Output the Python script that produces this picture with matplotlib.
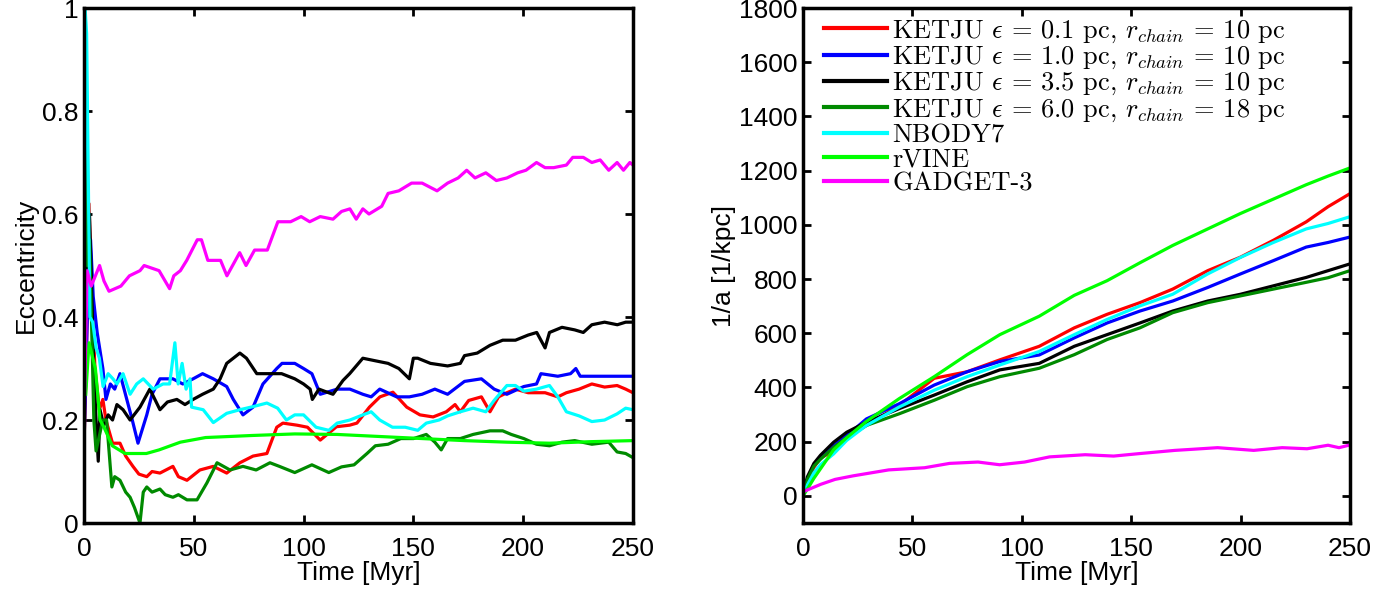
import matplotlib
matplotlib.use('Agg')
import matplotlib.pyplot as plt

plt.rcParams['font.family'] = ['Liberation Sans', 'DejaVu Sans']
plt.rcParams['mathtext.fontset'] = 'cm'

# ---------------- left panel: eccentricity ----------------
t_red = [0, 1, 2.3, 3.5, 5, 7, 8.6, 10, 13, 16.4, 19, 22.3, 25, 28.6, 31, 34.6, 40.5, 43, 46.9, 52.8,
         58.9, 65, 71, 77, 83.3, 87.8, 90.6, 97, 101.8, 107.6, 115, 121, 124.3, 130, 134.8, 140.7,
         147, 153, 159, 165, 169, 171.4, 175.2, 181, 184.9, 188.8, 192.6, 196.5, 202.3, 210, 215.8,
         219.7, 225.5, 231.3, 237.1, 242.8, 246.7, 250]
e_red = [0.15, 0.3, 0.62, 0.45, 0.3, 0.22, 0.24, 0.2, 0.155, 0.155, 0.13, 0.11, 0.095, 0.09, 0.1, 0.097,
         0.11, 0.09, 0.083, 0.103, 0.11, 0.097, 0.117, 0.13, 0.135, 0.186, 0.194, 0.19, 0.186, 0.161,
         0.187, 0.19, 0.194, 0.225, 0.245, 0.254, 0.225, 0.21, 0.206, 0.216, 0.23, 0.216, 0.238, 0.245,
         0.216, 0.245, 0.253, 0.26, 0.253, 0.253, 0.245, 0.253, 0.26, 0.27, 0.264, 0.267, 0.26, 0.253]

t_blue = [0, 1.5, 3, 4.2, 6, 8.6, 10, 12, 14, 16.4, 19.5, 22, 24.6, 28.6, 31, 34.6, 40.5, 45, 49.7, 54,
          58.9, 65, 68, 72.4, 77, 81.5, 87.8, 90.2, 96, 100, 103.8, 107.6, 115.3, 121.1, 127, 130.8,
          134.7, 142.4, 148.2, 154, 159.8, 165.6, 173.3, 181, 186.8, 192.6, 200.3, 206.1, 208.1, 215.8,
          221.6, 224, 226, 231.3, 241, 250]
e_blue = [0.15, 0.4, 0.55, 0.44, 0.37, 0.3, 0.24, 0.27, 0.26, 0.29, 0.24, 0.2, 0.155, 0.21, 0.25, 0.28,
          0.28, 0.27, 0.28, 0.29, 0.28, 0.265, 0.24, 0.21, 0.225, 0.27, 0.3, 0.31, 0.31, 0.3, 0.29, 0.25,
          0.26, 0.26, 0.25, 0.245, 0.26, 0.245, 0.245, 0.25, 0.26, 0.25, 0.275, 0.28, 0.26, 0.25, 0.265,
          0.27, 0.29, 0.285, 0.29, 0.3, 0.285, 0.285, 0.285, 0.285]

t_black = [0, 1, 2.5, 3.5, 4.5, 5.5, 6.5, 7.3, 9, 11, 13, 15, 17.8, 21, 25.5, 30, 34.6, 38, 42.3, 46,
           49.7, 54, 58.9, 62, 65, 68, 71, 74, 78.7, 84.4, 90, 96, 100, 103, 104, 107, 109.5, 113.4,
           118, 121, 127, 132.7, 138.5, 143.4, 148.2, 150, 152, 157.8, 165.6, 171.4, 173.3, 179.1,
           184.9, 190.7, 196.5, 202.3, 206.2, 210, 212, 217.7, 223.5, 227.4, 231.3, 237.1, 242.9,
           246.7, 250]
e_black = [0.2, 0.45, 0.6, 0.45, 0.3, 0.2, 0.12, 0.22, 0.19, 0.21, 0.2, 0.23, 0.22, 0.2, 0.225, 0.26,
           0.22, 0.235, 0.24, 0.23, 0.24, 0.25, 0.26, 0.28, 0.31, 0.32, 0.33, 0.32, 0.29, 0.29, 0.29,
           0.28, 0.27, 0.26, 0.24, 0.26, 0.256, 0.25, 0.277, 0.29, 0.32, 0.315, 0.31, 0.3, 0.28, 0.32,
           0.32, 0.31, 0.305, 0.31, 0.325, 0.33, 0.345, 0.355, 0.355, 0.365, 0.37, 0.34, 0.37, 0.38,
           0.375, 0.37, 0.385, 0.39, 0.385, 0.39, 0.39]

t_dkgreen = [0, 0.6, 1.5, 2.5, 3.5, 4.5, 5.5, 7.3, 8.5, 10.3, 12.7, 14, 16.4, 19, 21, 23, 25.5, 27,
             28.6, 31, 34.6, 37, 40.5, 43, 46.9, 51.5, 56, 60.6, 66.5, 72.4, 78.4, 84.7, 89, 96, 103.8,
             111.5, 117.3, 123, 128.9, 132.7, 138.5, 144.3, 150.1, 155.9, 159.8, 162.7, 165.6, 171.4,
             177.2, 184.9, 190.7, 194.6, 200.3, 206.1, 212, 217.7, 223.5, 231.3, 239, 242.8, 246.7, 250]
e_dkgreen = [0.15, 1.0, 0.5, 0.55, 0.38, 0.2, 0.14, 0.175, 0.2, 0.2, 0.07, 0.09, 0.083, 0.06, 0.05,
             0.03, 0.0, 0.06, 0.07, 0.06, 0.066, 0.055, 0.05, 0.055, 0.045, 0.045, 0.078, 0.117, 0.103,
             0.11, 0.103, 0.117, 0.11, 0.098, 0.113, 0.098, 0.109, 0.113, 0.135, 0.15, 0.153, 0.164,
             0.164, 0.172, 0.157, 0.142, 0.164, 0.164, 0.172, 0.179, 0.179, 0.172, 0.164, 0.153, 0.15,
             0.157, 0.16, 0.153, 0.157, 0.138, 0.135, 0.127]

t_cyan = [0, 0.5, 1.2, 2.7, 4, 5.5, 7, 8.7, 11, 13.2, 15, 17.8, 21, 24, 27, 31.5, 36, 39, 41.4, 42.9,
          44.7, 46.5, 48.3, 49, 54.3, 58.9, 65, 71, 77, 83.3, 88.2, 92.2, 96, 100, 105.7, 111.5, 115.3,
          121.1, 127, 130.8, 134.7, 140.5, 146.3, 152, 155.9, 161.7, 165.6, 171.4, 177.2, 183, 186.8,
          192.6, 196.5, 200.3, 206.1, 212, 215.8, 219.7, 225.5, 231.3, 237.1, 242.8, 246.7, 250]
e_cyan = [0.15, 1.0, 0.95, 0.4, 0.39, 0.34, 0.32, 0.265, 0.29, 0.28, 0.27, 0.29, 0.25, 0.27, 0.28, 0.26,
          0.27, 0.27, 0.35, 0.27, 0.31, 0.26, 0.28, 0.225, 0.22, 0.195, 0.213, 0.22, 0.226, 0.233, 0.223,
          0.2, 0.21, 0.21, 0.186, 0.18, 0.194, 0.2, 0.21, 0.216, 0.2, 0.186, 0.186, 0.18, 0.194, 0.2,
          0.208, 0.216, 0.223, 0.216, 0.238, 0.267, 0.267, 0.256, 0.26, 0.267, 0.245, 0.216, 0.208,
          0.197, 0.2, 0.212, 0.223, 0.22]

t_rvine = [0.8, 2.3, 5.2, 7.3, 9.1, 12.9, 18.7, 28.4, 34.2, 43.9, 55.4, 76.7, 96, 115.3, 134.7, 154,
           173.3, 192.6, 212, 231, 250]
e_rvine = [0.25, 0.35, 0.3, 0.2, 0.186, 0.15, 0.135, 0.135, 0.142, 0.157, 0.166, 0.17, 0.173, 0.172,
           0.168, 0.164, 0.16, 0.157, 0.155, 0.158, 0.16]

t_gadget = [0, 0.8, 1.4, 3.3, 7.1, 9.1, 11.4, 16.8, 20.7, 25.5, 27.4, 34.2, 39, 40.9, 43.9, 46.8, 51.6,
            53.5, 56.4, 62.2, 65.1, 70.9, 73.8, 77.7, 83.5, 88.3, 94.1, 98.9, 102.8, 107.6, 113.4,
            117.3, 121.1, 124, 127, 129.8, 135.6, 138.5, 143.4, 149.2, 154, 160.8, 165.6, 170.4, 174.3,
            178.1, 183, 187.8, 192.6, 197.5, 201.3, 206.1, 210, 213.9, 219.7, 222.6, 227.4, 231.3,
            235.1, 239, 242.8, 245.7, 248.6, 250]
e_gadget = [0.2, 0.35, 0.49, 0.46, 0.5, 0.47, 0.45, 0.46, 0.48, 0.49, 0.5, 0.49, 0.455, 0.48, 0.49, 0.51,
            0.55, 0.55, 0.51, 0.51, 0.48, 0.525, 0.5, 0.53, 0.53, 0.585, 0.585, 0.595, 0.585, 0.595,
            0.59, 0.605, 0.61, 0.59, 0.61, 0.6, 0.615, 0.64, 0.645, 0.66, 0.66, 0.645, 0.66, 0.67,
            0.685, 0.67, 0.68, 0.665, 0.67, 0.68, 0.685, 0.7, 0.69, 0.69, 0.695, 0.71, 0.71, 0.7,
            0.705, 0.685, 0.7, 0.685, 0.7, 0.695]

# ---------------- right panel: 1/a ----------------
t_grid = [0, 2, 5, 8, 14, 20, 29, 44, 60, 75, 90, 108, 124, 139, 154, 169, 185, 200, 215, 230, 240, 250]
inv_red = [0, 55, 105, 140, 165, 215, 260, 334, 434, 458, 502, 552, 620, 670, 713, 763, 831, 881, 943,
           1011, 1067, 1115]
inv_blue = [0, 60, 115, 145, 185, 222, 284, 340, 409, 458, 496, 520, 583, 638, 682, 719, 769, 819, 868,
            918, 935, 955]
inv_black = [0, 70, 120, 150, 198, 235, 272, 322, 372, 421, 465, 489, 552, 595, 638, 682, 719, 744, 775,
             806, 831, 856]
inv_dkgreen = [0, 60, 110, 135, 179, 215, 260, 303, 353, 403, 440, 471, 521, 577, 620, 676, 713, 738,
               763, 788, 805, 831]
inv_cyan = [0, 40, 85, 115, 155, 205, 260, 328, 390, 440, 483, 533, 595, 651, 701, 744, 819, 880, 935,
            985, 1005, 1030]
inv_rvine = [0, 25, 65, 100, 170, 215, 275, 359, 440, 521, 595, 663, 740, 794, 860, 924, 985, 1042, 1095,
             1148, 1180, 1210]
t_gad2 = [0, 0.8, 8.2, 14.7, 22.9, 39.2, 55.6, 67, 80, 89.9, 101.3, 112.7, 129, 142, 153.6, 170, 178,
          189.5, 206, 219, 230.4, 240, 245, 250]
inv_gadget = [10, 18, 43, 61, 74, 96, 104, 120, 125, 115, 125, 144, 152, 147, 156, 168, 172, 178, 168,
              178, 174, 187, 178, 188]

labels = [r'KETJU $\epsilon$ = 0.1 pc, $r_{chain}$ = 10 pc',
          r'KETJU $\epsilon$ = 1.0 pc, $r_{chain}$ = 10 pc',
          r'KETJU $\epsilon$ = 3.5 pc, $r_{chain}$ = 10 pc',
          r'KETJU $\epsilon$ = 6.0 pc, $r_{chain}$ = 18 pc',
          'NBODY7', 'rVINE', 'GADGET-3']
colors = ['#ff0000', '#0000ff', '#000000', '#008a00', '#00ffff', '#00ff00', '#ff00ff']

fig = plt.figure(figsize=(13.95, 5.93), dpi=100)
ax1 = fig.add_axes([0.0602, 0.118, 0.3935, 0.8685])
ax2 = fig.add_axes([0.5756, 0.118, 0.3921, 0.8685])

lw = 2.3
left_series = [(t_red, e_red), (t_blue, e_blue), (t_black, e_black), (t_dkgreen, e_dkgreen),
               (t_cyan, e_cyan), (t_rvine, e_rvine), (t_gadget, e_gadget)]
for (t, e), c in zip(left_series, colors):
    ax1.plot(t, e, color=c, lw=lw)

right_series = [(t_grid, inv_red), (t_grid, inv_blue), (t_grid, inv_black), (t_grid, inv_dkgreen),
                (t_grid, inv_cyan), (t_grid, inv_rvine), (t_gad2, inv_gadget)]
for (t, v), c, lab in zip(right_series, colors, labels):
    ax2.plot(t, v, color=c, lw=lw, label=lab)

ax1.set_xlim(0, 250)
ax1.set_ylim(0, 1)
ax1.set_yticks([0, 0.2, 0.4, 0.6, 0.8, 1])
ax1.set_yticklabels(['0', '0.2', '0.4', '0.6', '0.8', '1'])
ax1.set_ylabel('Eccentricity', fontsize=19, labelpad=3)

ax2.set_xlim(0, 250)
ax2.set_ylim(-100, 1800)
ax2.set_yticks(range(0, 1801, 200))
ax2.set_ylabel('1/a [1/kpc]', fontsize=19, labelpad=2)

for ax in (ax1, ax2):
    ax.set_xticks([0, 50, 100, 150, 200, 250])
    ax.set_xlabel('Time [Myr]', fontsize=19, labelpad=0)
    ax.tick_params(direction='in', length=6, width=2, labelsize=19, top=True, right=True)
    ax.tick_params(axis='x', pad=10)
    ax.tick_params(axis='y', pad=4)
    for s in ax.spines.values():
        s.set_linewidth(2.5)

leg = ax2.legend(loc='upper left', bbox_to_anchor=(0.033, 0.985), frameon=False,
                 prop={'family': 'cmr10', 'size': 19}, handlelength=2.4, handletextpad=0.2,
                 labelspacing=0.0, borderaxespad=0, borderpad=0.1)
for line in leg.get_lines():
    line.set_linewidth(3)

fig.savefig('out.png', dpi=100)
